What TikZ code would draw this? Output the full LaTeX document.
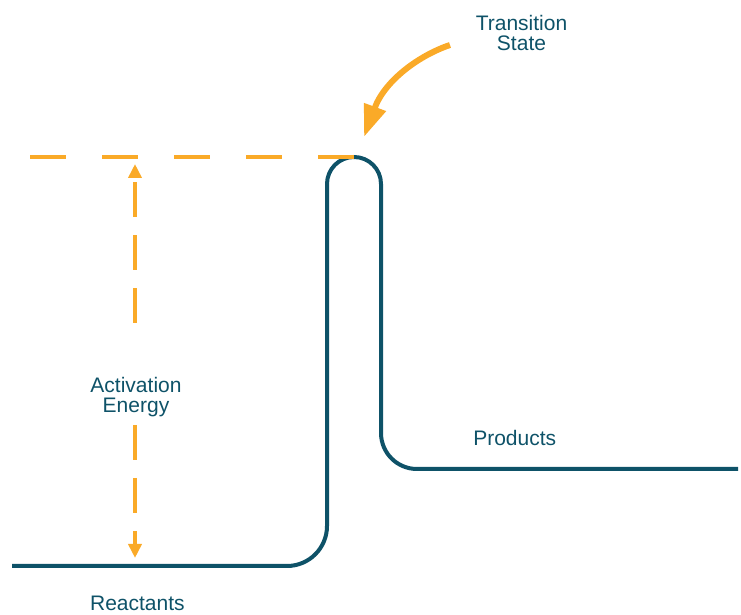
\documentclass[tikz,border=0pt]{standalone}
\usepackage{fontspec}
\setmainfont{Liberation Sans}
\usetikzlibrary{arrows.meta}
\definecolor{curveblue}{RGB}{14,82,104}
\definecolor{accent}{RGB}{250,170,40}
\begin{document}
\begin{tikzpicture}[x=1pt,y=1pt,
  energy/.style={draw=curveblue,line width=4pt},
  guide/.style={draw=accent,line width=3.5pt,dash pattern=on 36pt off 36pt},
  measure/.style={draw=accent,line width=3.5pt,dash pattern=on 35pt off 18pt,-{Triangle[width=13pt,length=14pt]}},
  pointer/.style={draw=accent,line width=6pt,-{Triangle[width=22pt,length=32pt]}},
  lbl/.style={text=curveblue,font=\fontsize{21}{20.5}\selectfont,align=center,inner sep=0pt,anchor=base}]
\useasboundingbox (0,0) rectangle (741,615);

% energy profile
\draw[energy] (12,49) -- (287,49) arc[start angle=-90,end angle=0,radius=40]
  -- (327,431) arc[start angle=180,end angle=0,radius=27]
  -- (381,182) arc[start angle=180,end angle=270,radius=36] -- (738,146);

% transition state level
\coordinate (levelL) at (30,458);
\coordinate (levelR) at (354,458);
\draw[guide] (levelL) -- (levelR);

% labels (base anchor = baseline of the last line)
\node[lbl] (ts) at (521.5,564) {Transition\\State};
\node[lbl] (ae) at (136,202.3) {Activation\\Energy};
\node[lbl] (prod) at (514.7,169) {Products};
\node[lbl] (reac) at (137.4,4.3) {Reactants};

% activation energy arrows
\coordinate (aeTopStart) at (135,292);
\coordinate (aeTopEnd) at (135,451);
\coordinate (aeBotStart) at (135,190);
\coordinate (aeBotEnd) at (135,57);
\draw[measure] (aeTopStart) -- (aeTopEnd);
\draw[measure] (aeBotStart) -- (aeBotEnd);

% pointer to transition state
\coordinate (tail) at (450,570);
\coordinate (peak) at (364,478);
\draw[pointer] (tail) .. controls (420,560) and (385,535) .. (peak);
\end{tikzpicture}
\end{document}
